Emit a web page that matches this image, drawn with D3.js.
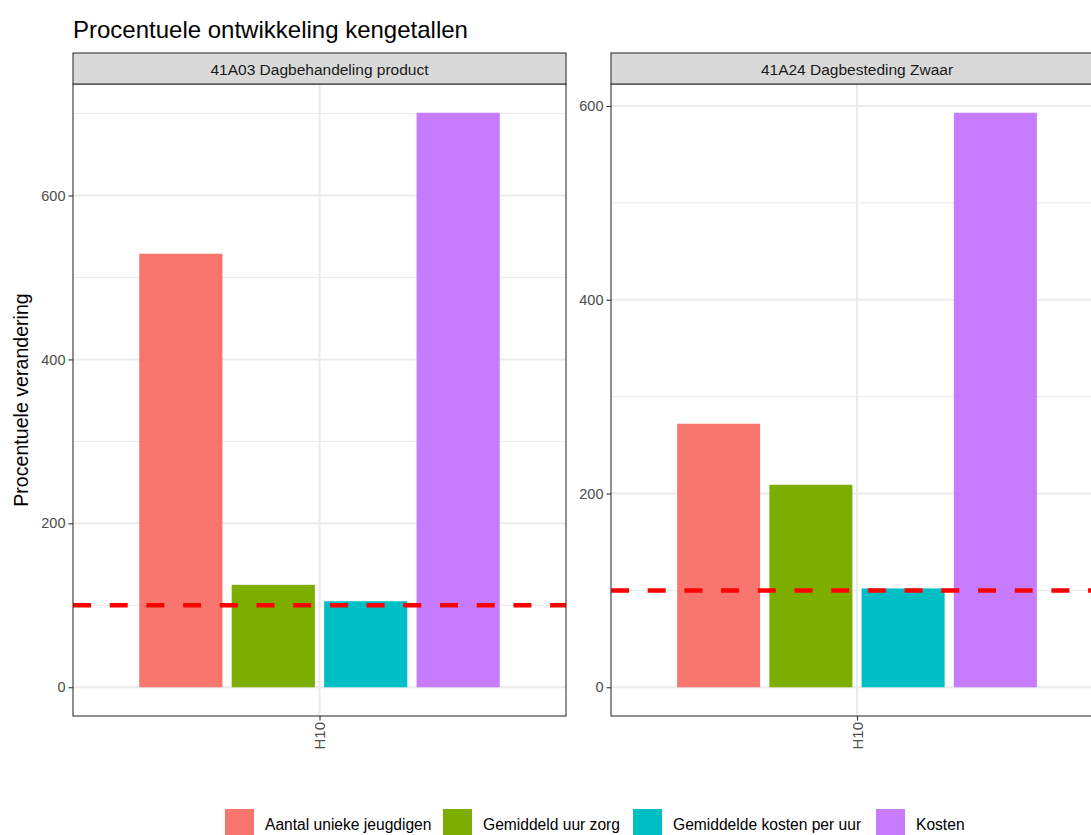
<!DOCTYPE html>
<html>
<head>
<meta charset="utf-8">
<script src="https://cdn.jsdelivr.net/npm/d3@7"></script>
<style>
  html, body { margin: 0; padding: 0; background: #fff; overflow: hidden; }
  svg { display: block; font-family: "Liberation Sans", Arial, Helvetica, sans-serif; }
</style>
</head>
<body>
<svg id="chart" width="1091" height="835"></svg>
<script>
// ---- data ----
const facets = ["41A03 Dagbehandeling product", "41A24 Dagbesteding Zwaar"];
const categories = ["Aantal unieke jeugdigen", "Gemiddeld uur zorg", "Gemiddelde kosten per uur", "Kosten"];
const values41A03 = [529, 125, 105, 701];
const values41A24 = [272, 209, 102, 593];
const xLabels = ["H10"];
const yTicks41A03 = [0, 200, 400, 600];
const yTicks41A24 = [0, 200, 400, 600];
const referenceValue = 100;
const colors = ["#F8766D", "#7CAE00", "#00BFC4", "#C77CFF"];

const panelData = [
  { name: facets[0], values: values41A03, ticks: yTicks41A03 },
  { name: facets[1], values: values41A24, ticks: yTicks41A24 }
];

// ---- layout ----
const svg = d3.select("#chart");
const panelTop = 84, panelBottom = 716, stripTop = 53;
const panelX = [[73, 566], [611, 1103]];

svg.append("text")
  .attr("x", 73).attr("y", 38)
  .attr("font-size", 24).attr("fill", "#000")
  .text("Procentuele ontwikkeling kengetallen");

svg.append("text")
  .attr("transform", `translate(28,400) rotate(-90)`)
  .attr("text-anchor", "middle")
  .attr("font-size", 19.6).attr("fill", "#000")
  .text("Procentuele verandering");

panelData.forEach((p, i) => {
  const [x0, x1] = panelX[i];
  const maxV = d3.max(p.values), minV = Math.min(0, d3.min(p.values));
  const span = maxV - minV;
  const y = d3.scaleLinear().domain([minV - 0.05 * span, maxV + 0.05 * span]).range([panelBottom, panelTop]);
  // discrete x with 0.6 expansion
  const xc = d3.scaleLinear().domain([0.4, xLabels.length + 0.6]).range([x0, x1]);
  const g = svg.append("g");

  // panel background
  g.append("rect").attr("x", x0).attr("y", panelTop).attr("width", x1 - x0).attr("height", panelBottom - panelTop)
    .attr("fill", "#fff");

  // minor gridlines
  const step = p.ticks[1] - p.ticks[0];
  const minor = [];
  for (let v = p.ticks[0] - step / 2; v <= y.domain()[1]; v += step) {
    if (v >= y.domain()[0]) minor.push(v);
  }
  g.selectAll(".minor").data(minor).enter().append("line")
    .attr("x1", x0).attr("x2", x1).attr("y1", d => y(d)).attr("y2", d => y(d))
    .attr("stroke", "#ebebeb").attr("stroke-width", 1);
  // major gridlines
  g.selectAll(".major").data(p.ticks).enter().append("line")
    .attr("x1", x0).attr("x2", x1).attr("y1", d => y(d)).attr("y2", d => y(d))
    .attr("stroke", "#ebebeb").attr("stroke-width", 2);
  g.selectAll(".vmajor").data(xLabels).enter().append("line")
    .attr("x1", (d, j) => xc(j + 1)).attr("x2", (d, j) => xc(j + 1))
    .attr("y1", panelTop).attr("y2", panelBottom)
    .attr("stroke", "#ebebeb").attr("stroke-width", 2);

  // bars (dodge2 layout, width 0.9)
  xLabels.forEach((lab, j) => {
    const band = d3.scaleBand().domain(categories)
      .range([xc(j + 1 - 0.45), xc(j + 1 + 0.45)])
      .paddingInner(0.1).paddingOuter(0.05);
    g.selectAll(".bar" + j).data(p.values).enter().append("rect")
      .attr("x", (d, k) => band(categories[k]))
      .attr("width", band.bandwidth())
      .attr("y", d => y(Math.max(0, d)))
      .attr("height", d => Math.abs(y(d) - y(0)))
      .attr("fill", (d, k) => colors[k]);
  });

  // reference line
  g.append("line")
    .attr("x1", x0).attr("x2", x1)
    .attr("y1", y(referenceValue)).attr("y2", y(referenceValue))
    .attr("stroke", "#FF0000").attr("stroke-width", 4.5)
    .attr("stroke-dasharray", "18,18.7");

  // panel border
  g.append("rect").attr("x", x0).attr("y", panelTop).attr("width", x1 - x0).attr("height", panelBottom - panelTop)
    .attr("fill", "none").attr("stroke", "#333").attr("stroke-width", 1.1);

  // strip
  g.append("rect").attr("x", x0).attr("y", stripTop).attr("width", x1 - x0).attr("height", panelTop - stripTop)
    .attr("fill", "#d9d9d9").attr("stroke", "#333").attr("stroke-width", 1.1);
  g.append("text").attr("x", (x0 + x1) / 2).attr("y", 75)
    .attr("text-anchor", "middle").attr("font-size", 15.5).attr("fill", "#1a1a1a")
    .text(p.name);

  // y axis
  const yAxis = g.append("g").attr("transform", `translate(${x0},0)`)
    .call(d3.axisLeft(y).tickValues(p.ticks).tickSize(4.5).tickPadding(3).tickFormat(d3.format("d")));
  yAxis.select(".domain").remove();
  yAxis.selectAll(".tick line").attr("stroke", "#333").attr("stroke-width", 1.1);
  yAxis.selectAll(".tick text").attr("fill", "#4d4d4d").attr("font-size", 14.5)
    .attr("font-family", "Liberation Sans, Arial, sans-serif");

  // x axis
  const xAxis = g.append("g").attr("transform", `translate(0,${panelBottom})`)
    .call(d3.axisBottom(xc).tickValues(xLabels.map((d, j) => j + 1)).tickSize(4.5).tickFormat((d) => xLabels[d - 1]));
  xAxis.select(".domain").remove();
  xAxis.selectAll(".tick line").attr("stroke", "#333").attr("stroke-width", 1.1);
  xAxis.selectAll(".tick text")
    .attr("fill", "#4d4d4d").attr("font-size", 15)
    .attr("font-family", "Liberation Sans, Arial, sans-serif")
    .attr("transform", "rotate(-90)")
    .attr("text-anchor", "end")
    .attr("x", -6).attr("y", 0).attr("dy", "0.35em");
});

// legend
const legendX = [225, 443, 633, 876];
const legend = svg.append("g");
categories.forEach((c, k) => {
  legend.append("rect").attr("x", legendX[k]).attr("y", 809).attr("width", 29).attr("height", 29)
    .attr("fill", colors[k]);
  legend.append("text").attr("x", legendX[k] + 40).attr("y", 830)
    .attr("font-size", 15.6).attr("fill", "#000").text(c);
});
</script>
</body>
</html>
